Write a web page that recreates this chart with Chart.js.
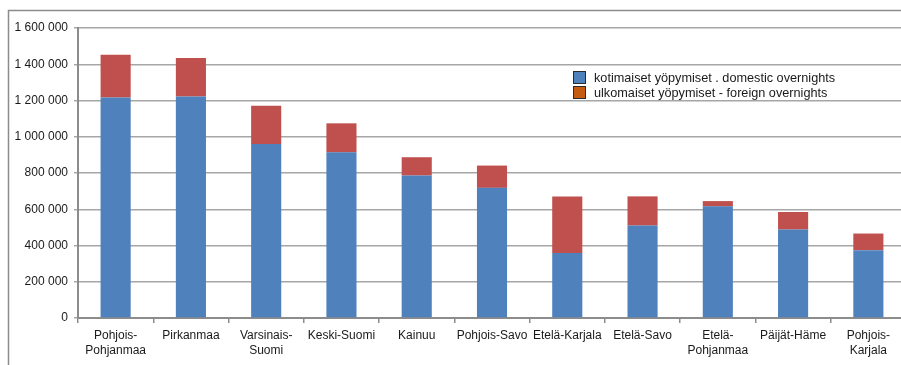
<!DOCTYPE html>
<html>
<head>
<meta charset="utf-8">
<script src="https://cdn.jsdelivr.net/npm/chart.js@4"></script>
<style>
  html, body { margin: 0; padding: 0; background: #fff; }
  #wrap { width: 901px; height: 365px; overflow: hidden; position: relative; }
</style>
</head>
<body>
<div id="wrap"><canvas id="overnights" width="906" height="365"></canvas></div>
<script>
const regions = [
  ["Pohjois-", "Pohjanmaa"], "Pirkanmaa", ["Varsinais-", "Suomi"], "Keski-Suomi", "Kainuu",
  "Pohjois-Savo", "Etelä-Karjala", "Etelä-Savo", ["Etelä-", "Pohjanmaa"], "Päijät-Häme", ["Pohjois-", "Karjala"]
];
const domestic = [1217000, 1222000, 960000, 914000, 786000, 718000, 359000, 510000, 616000, 488000, 374000];
const foreign = [235000, 213000, 211000, 160000, 101000, 123000, 312000, 161000, 29000, 97000, 92000];
const seriesLabels = ["kotimaiset yöpymiset . domestic overnights", "ulkomaiset yöpymiset - foreign overnights"];
const yTicks = [0, 200000, 400000, 600000, 800000, 1000000, 1200000, 1400000, 1600000];

const FONT = "'Liberation Sans', Arial, sans-serif";
const legendSwatches = ["#4f81bd", "#c55a11"];

// frame around the whole chart + legend inside the plot
const framePlugin = {
  id: "frame",
  beforeDraw(chart) {
    const c = chart.ctx;
    c.save();
    c.strokeStyle = "#8c8c8c";
    c.lineWidth = 1.5;
    c.beginPath();
    c.moveTo(8.5, 400);
    c.lineTo(8.5, 10.5);
    c.lineTo(1000, 10.5);
    c.stroke();
    c.restore();
  },
  afterDraw(chart) {
    const c = chart.ctx;
    c.save();
    c.font = "12.7px " + FONT;
    c.textBaseline = "middle";
    seriesLabels.forEach((txt, i) => {
      const y = 71 + i * 15;
      c.fillStyle = legendSwatches[i];
      c.fillRect(573, y, 13, 13);
      c.strokeStyle = "#2b2b2b";
      c.lineWidth = 1;
      c.strokeRect(573.5, y + 0.5, 12, 12);
      c.fillStyle = "#1a1a1a";
      c.fillText(txt, 594, y + 7);
    });
    c.restore();
  }
};

new Chart(document.getElementById("overnights"), {
  type: "bar",
  data: {
    labels: regions,
    datasets: [
      { label: seriesLabels[0], data: domestic, backgroundColor: "#4f81bd", borderWidth: 0 },
      { label: seriesLabels[1], data: foreign, backgroundColor: "#c0504d", borderWidth: 0 }
    ]
  },
  options: {
    responsive: false,
    animation: false,
    layout: { padding: { top: 28, right: 0, left: 0, bottom: 0 } },
    plugins: { legend: { display: false }, tooltip: { enabled: false } },
    datasets: { bar: { categoryPercentage: 1, barPercentage: 0.4 } },
    scales: {
      x: {
        stacked: true,
        offset: true,
        grid: { offset: true, drawOnChartArea: false, color: "#8c8c8c", lineWidth: 1.5, tickLength: 5 },
        border: { color: "#8c8c8c", width: 2 },
        ticks: { color: "#1a1a1a", font: { family: FONT, size: 12, lineHeight: 1.25 }, padding: 5, maxRotation: 0, autoSkip: false },
        afterFit(scale) { scale.height = 47; }
      },
      y: {
        stacked: true,
        min: 0,
        max: 1600000,
        afterBuildTicks(scale) { scale.ticks = yTicks.map(v => ({ value: v })); },
        grid: { color: "#a6a6a6", lineWidth: 1.5, tickLength: 4 },
        border: { color: "#8c8c8c", width: 2 },
        ticks: {
          color: "#1a1a1a",
          font: { family: FONT, size: 12 },
          padding: 6,
          callback: v => String(v).replace(/\B(?=(\d{3})+(?!\d))/g, " ")
        },
        afterFit(scale) { scale.width = 78; }
      }
    }
  },
  plugins: [framePlugin]
});
</script>
</body>
</html>
